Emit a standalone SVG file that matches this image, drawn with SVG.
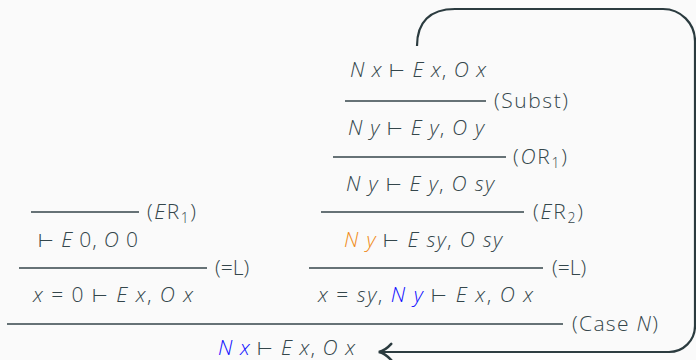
<svg xmlns="http://www.w3.org/2000/svg" width="696" height="360" viewBox="0 0 696 360">
<style>
text{font-family:"Open Sans",Lato,"DejaVu Sans",sans-serif;font-weight:300;font-size:21px;fill:#34464b}
.i{font-style:italic}
.b{fill:#1010ff}
.o{fill:#f08c20}
.t{font-family:"DejaVu Sans",sans-serif;font-weight:300;font-size:18px;font-style:normal}
.sub{font-size:14px}
.rule{stroke:#34454a;stroke-width:1.6;fill:none}
.arrow{stroke:#2b3b3f;stroke-width:2.2;fill:none}
</style>
<defs>
<marker id="ah" markerUnits="userSpaceOnUse" markerWidth="20" markerHeight="20" refX="0" refY="0" viewBox="-12 -8 14 16" orient="auto" overflow="visible">
<path d="M -9 -6.5 Q -4 -1 1 0 Q -4 1 -9 6.5" fill="none" stroke="#2b3b3f" stroke-width="2" stroke-linecap="round"/>
</marker>
</defs>
<rect width="696" height="360" fill="#fafafa"/>
<g id="connectors">
<line class="rule" x1="345" y1="101" x2="486" y2="101"/>
<line class="rule" x1="333" y1="157" x2="506" y2="157"/>
<line class="rule" x1="31" y1="212" x2="139" y2="212"/>
<line class="rule" x1="321" y1="212" x2="524" y2="212"/>
<line class="rule" x1="19" y1="268" x2="207" y2="268"/>
<line class="rule" x1="309" y1="268" x2="543" y2="268"/>
<line class="rule" x1="7" y1="324" x2="563" y2="324"/>
<path class="arrow" d="M 417 46 C 417 22 430 9 455 9 L 663 9 A 32 32 0 0 1 695 41 L 695 326 A 26 26 0 0 1 669 352 L 380 352" marker-end="url(#ah)"/>
<text x="494" y="108" textLength="74">(Subst)</text>
<text x="513" y="164" textLength="54">(<tspan class="i">O</tspan>R<tspan class="sub" dy="4">1</tspan><tspan dy="-4">)</tspan></text>
<text x="147" y="219" textLength="49">(<tspan class="i">E</tspan>R<tspan class="sub" dy="4">1</tspan><tspan dy="-4">)</tspan></text>
<text x="533" y="219" textLength="50">(<tspan class="i">E</tspan>R<tspan class="sub" dy="4">2</tspan><tspan dy="-4">)</tspan></text>
<text x="215" y="275">(=L)</text>
<text x="552" y="275">(=L)</text>
<text x="572" y="331" textLength="86">(Case <tspan class="i">N</tspan>)</text>
</g>
<g id="n1"><text x="350" y="77" textLength="136"><tspan class="i">N x</tspan> <tspan class="t">⊢</tspan> <tspan class="i">E x</tspan>, <tspan class="i">O x</tspan></text></g>
<g id="n2"><text x="348" y="135" textLength="136"><tspan class="i">N y</tspan> <tspan class="t">⊢</tspan> <tspan class="i">E y</tspan>, <tspan class="i">O y</tspan></text></g>
<g id="n3"><text x="346" y="191" textLength="148"><tspan class="i">N y</tspan> <tspan class="t">⊢</tspan> <tspan class="i">E y</tspan>, <tspan class="i">O sy</tspan></text></g>
<g id="n4"><text x="38" y="247" textLength="100"><tspan class="t">⊢</tspan> <tspan class="i">E</tspan> 0, <tspan class="i">O</tspan> 0</text></g>
<g id="n5"><text x="344" y="247" textLength="158"><tspan class="i o">N y</tspan> <tspan class="t">⊢</tspan> <tspan class="i">E sy</tspan>, <tspan class="i">O sy</tspan></text></g>
<g id="n6"><text x="33" y="302" textLength="160"><tspan class="i">x</tspan> = 0 <tspan class="t">⊢</tspan> <tspan class="i">E x</tspan>, <tspan class="i">O x</tspan></text></g>
<g id="n7"><text x="318" y="302" textLength="215"><tspan class="i">x</tspan> = <tspan class="i">sy</tspan>, <tspan class="i b">N y</tspan> <tspan class="t">⊢</tspan> <tspan class="i">E x</tspan>, <tspan class="i">O x</tspan></text></g>
<g id="n8"><text x="218" y="355" textLength="137"><tspan class="i b">N x</tspan> <tspan class="t">⊢</tspan> <tspan class="i">E x</tspan>, <tspan class="i">O x</tspan></text></g>
</svg>
